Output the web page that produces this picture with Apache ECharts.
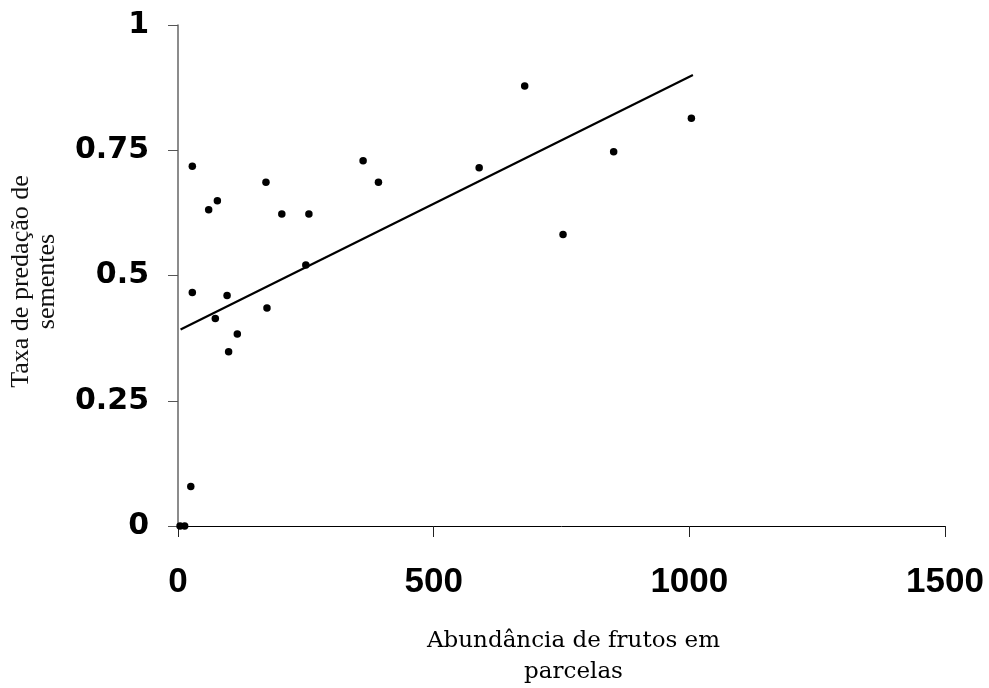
<!DOCTYPE html>
<html>
<head>
<meta charset="utf-8">
<title>Taxa de predação de sementes</title>
<script src="https://cdn.jsdelivr.net/npm/echarts@6/dist/echarts.min.js"></script>
<style>
    html, body { margin: 0; padding: 0; background: #fff; }
    #chart { width: 989px; height: 688px; }
</style>
</head>
<body>
<div id="chart"></div>
<script>
// abundância de frutos (x) e taxa de predação (y)
var abundancia = [4, 13, 25, 28, 28, 60, 73, 77, 96, 99, 116, 172, 174, 203, 250, 256, 362, 392, 589, 678, 753, 852, 1004];
var predacao = [0, 0, 0.079, 0.466, 0.718, 0.631, 0.414, 0.649, 0.460, 0.348, 0.383, 0.686, 0.435, 0.623, 0.521, 0.623, 0.729, 0.686, 0.715, 0.878, 0.582, 0.747, 0.814];

// linha de tendência (pontos extremos)
var tendenciaX = [5, 1007];
var tendenciaY = [0.392, 0.900];

var xTicks = [0, 1500, 500];   // min, max, intervalo
var yTicks = [0, 1, 0.25];

var pontos = [];
for (var i = 0; i < abundancia.length; i++) {
    pontos.push([abundancia[i], predacao[i]]);
}
var linha = [];
for (var j = 0; j < tendenciaX.length; j++) {
    linha.push([tendenciaX[j], tendenciaY[j]]);
}

var myChart = echarts.init(document.getElementById("chart"));

var option = {
    backgroundColor: '#fff',
    animation: false,
    grid: {
        left: 178,
        right: 44,
        top: 25,
        bottom: 162,
        outerBoundsMode: 'none'
    },
    xAxis: {
        type: 'value',
        min: xTicks[0],
        max: xTicks[1],
        interval: xTicks[2],
        name: 'Abundância de frutos em\nparcelas',
        nameLocation: 'middle',
        nameGap: 100,
        nameTextStyle: {
            fontFamily: 'DejaVu Serif',
            fontSize: 23,
            color: '#000',
            lineHeight: 31,
            padding: [0, 0, 0, 24]
        },
        axisLine: { lineStyle: { color: '#000', width: 1 } },
        axisTick: { length: 11, lineStyle: { color: '#222' } },
        axisLabel: {
            margin: 39,
            fontFamily: 'Liberation Sans',
            fontWeight: 'bold',
            fontSize: 35,
            color: '#000',
            formatter: function (v) { return String(v); }
        },
        splitLine: { show: false }
    },
    yAxis: {
        type: 'value',
        min: yTicks[0],
        max: yTicks[1],
        interval: yTicks[2],
        name: 'Taxa de predação de\nsementes',
        nameLocation: 'middle',
        nameGap: 118,
        nameTextStyle: {
            fontFamily: 'Liberation Serif',
            fontSize: 26,
            color: '#111',
            lineHeight: 26,
            padding: [0, 12, 0, 0]
        },
        axisLine: { lineStyle: { color: '#666', width: 1.5 } },
        axisTick: { length: 10, lineStyle: { color: '#555' } },
        axisLabel: {
            margin: 29,
            fontFamily: 'DejaVu Sans',
            fontWeight: 'bold',
            fontSize: 30,
            color: '#000'
        },
        splitLine: { show: false }
    },
    series: [
        {
            type: 'scatter',
            data: pontos,
            symbol: 'circle',
            symbolSize: 7.5,
            itemStyle: { color: '#000', opacity: 1 }
        },
        {
            type: 'line',
            data: linha,
            symbol: 'none',
            lineStyle: { color: '#000', width: 2.2 }
        }
    ]
};

myChart.setOption(option, true);
</script>
</body>
</html>
